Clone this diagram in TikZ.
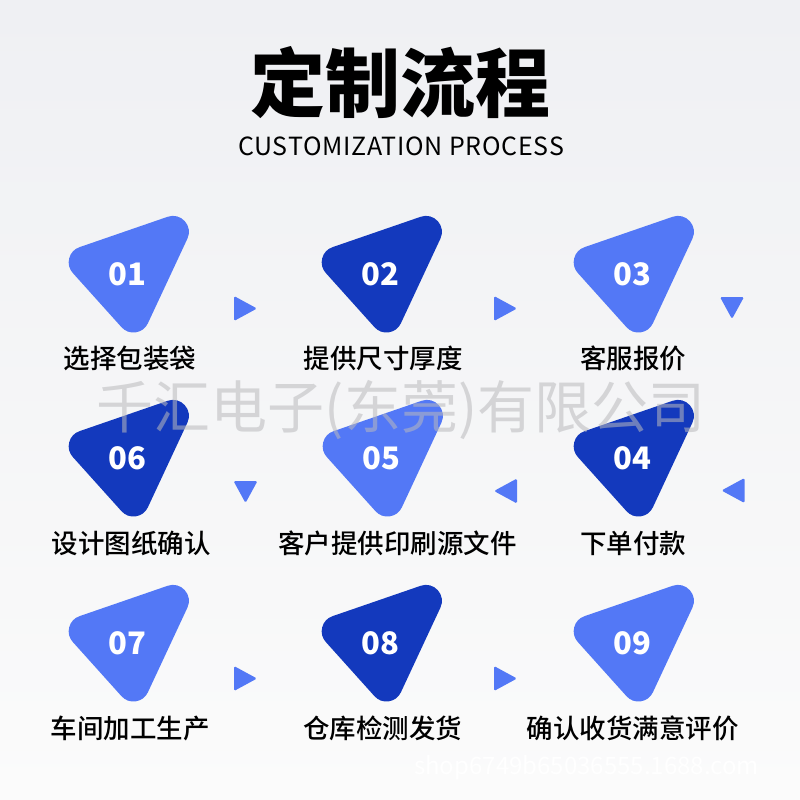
\documentclass[tikz,border=0pt]{standalone}
\usepackage{fontspec}
\setmainfont{Noto Sans CJK SC}
\newfontfamily\cjk{Noto Sans CJK SC}
\newfontface\cjkmed{Noto Sans CJK SC Medium}
\newfontface\cjkblack{Noto Sans CJK SC Black}
\newfontface\cjkspaced[LetterSpace=3]{Noto Sans CJK SC}
\definecolor{lb}{RGB}{83,120,246}
\definecolor{db}{RGB}{19,57,189}
\definecolor{bgtop}{RGB}{239,240,243}
\definecolor{bgbot}{RGB}{251,251,251}
\definecolor{wmgray}{RGB}{185,185,188}
\newcommand\rtri[2]{\filldraw[tri, fill=#2, draw=#2, shift={(#1)}] (-42.3,-11.7) -- (45.9,-42.1) -- (6.4,42.5) -- cycle;}
\newcommand\arrR[1]{\fill[arr, shift={(#1)}] (-11.5,-12.5) -- (11.5,0) -- (-11.5,12.5) -- cycle;}
\newcommand\arrL[1]{\fill[arr, shift={(#1)}] (11.5,-12.5) -- (-11.5,0) -- (11.5,12.5) -- cycle;}
\newcommand\arrD[1]{\fill[arr, shift={(#1)}] (-12,-11) -- (12,-11) -- (0,11) -- cycle;}
\begin{document}
\begin{tikzpicture}[x=1pt,y=-1pt,
  tri/.style={line width=32pt, line join=round},
  arr/.style={fill=lb, rounded corners=1.5pt},
  num/.style={text=white, inner sep=0pt, font={\cjk\bfseries\fontsize{31}{36}\selectfont}},
  lab/.style={text=black, inner sep=0pt, font={\cjkmed\fontsize{26.5}{30}\selectfont}}]
\useasboundingbox (0,0) rectangle (800,800);
\shade[top color=bgtop, bottom color=bgbot] (0,0) rectangle (800,800);
% title
\node[inner sep=0pt, font={\cjkblack\fontsize{75}{80}\selectfont}] (title) at (400,83) {定制流程};
\node[inner sep=0pt, font={\cjkspaced\fontsize{25}{29}\selectfont}] (subtitle) at (401,146) {CUSTOMIZATION PROCESS};
% shape centres
\coordinate (s1) at (127,274); \coordinate (s2) at (380,274); \coordinate (s3) at (632,274);
\coordinate (s6) at (127,458); \coordinate (s5) at (381,458); \coordinate (s4) at (632,458);
\coordinate (s7) at (127,643); \coordinate (s8) at (380,643); \coordinate (s9) at (632,643);
\rtri{s1}{lb} \rtri{s2}{db} \rtri{s3}{lb}
\rtri{s6}{db} \rtri{s5}{lb} \rtri{s4}{db}
\rtri{s7}{lb} \rtri{s8}{db} \rtri{s9}{lb}
\node[num] (n1) at (s1) {01}; \node[num] (n2) at (s2) {02}; \node[num] (n3) at (s3) {03};
\node[num] (n6) at (s6) {06}; \node[num] (n5) at (s5) {05}; \node[num] (n4) at (s4) {04};
\node[num] (n7) at (s7) {07}; \node[num] (n8) at (s8) {08}; \node[num] (n9) at (s9) {09};
% labels
\node[lab] (l1) at (130,358.5) {选择包装袋};
\node[lab] (l2) at (383,358.5) {提供尺寸厚度};
\node[lab] (l3) at (633,358.5) {客服报价};
\node[lab] (l6) at (131,543) {设计图纸确认};
\node[lab] (l5) at (397.5,543) {客户提供印刷源文件};
\node[lab] (l4) at (633,543) {下单付款};
\node[lab] (l7) at (130,728) {车间加工生产};
\node[lab] (l8) at (382.5,728) {仓库检测发货};
\node[lab] (l9) at (632.5,728) {确认收货满意评价};
% small arrows
\coordinate (a1) at (245.5,308.5); \coordinate (a2) at (505.5,308.5); \coordinate (a3) at (732,308);
\coordinate (a4) at (733,490.5); \coordinate (a5) at (505.5,491); \coordinate (a6) at (245.5,492);
\coordinate (a7) at (245.5,678.5); \coordinate (a8) at (505.5,678.5);
\arrR{a1} \arrR{a2} \arrD{a3}
\arrL{a4} \arrL{a5} \arrD{a6}
\arrR{a7} \arrR{a8}
% watermarks
\node[inner sep=0pt, text=wmgray, opacity=0.55, font={\cjk\fontsize{57}{60}\selectfont}] (wm1) at (401,410) {千汇电子(东莞)有限公司};
\node[inner sep=0pt, text=white, font={\cjk\fontsize{24}{28}\selectfont}] (wm2) at (586.5,768) {shop6749b65036555.1688.com};
\end{tikzpicture}
\end{document}
